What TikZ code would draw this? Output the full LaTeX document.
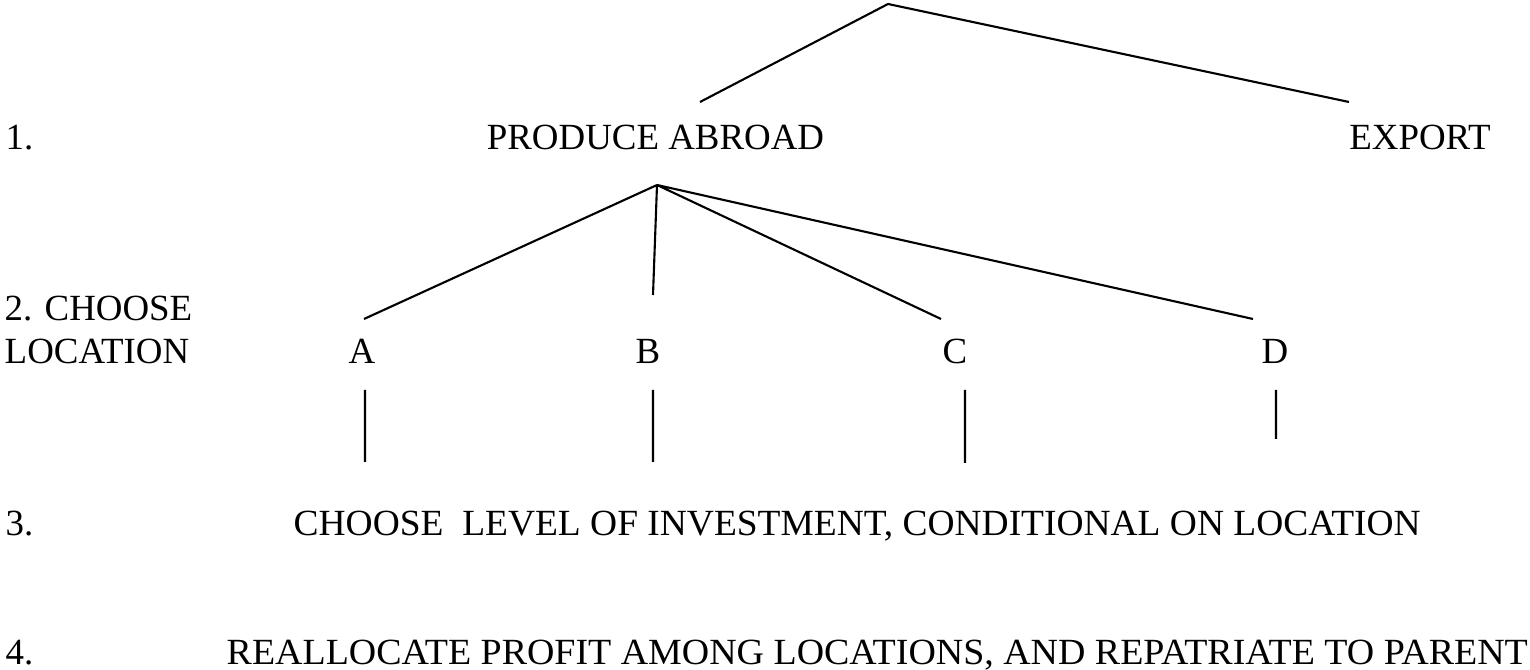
\documentclass[tikz,border=0pt]{standalone}
\usepackage{fontspec}
\setmainfont{Liberation Serif}
\begin{document}
\begin{tikzpicture}[lbl/.style={inner sep=0pt,font=\fontsize{10.5}{12}\selectfont},
                    stage/.style={lbl,anchor=base west},
                    choice/.style={lbl,anchor=base}]
\useasboundingbox (0,0) rectangle (15.30,6.70);
% stage labels on the left
\node (s1) at (0.05,5.20) [stage] {1.};
\node (s2) at (0.04,3.49) [stage] {2. CHOOSE};
\node (s2b) at (0.04,3.06) [stage] {LOCATION};
\node (s3) at (0.05,1.34) [stage] {3.};
\node (s4) at (0.05,0.05) [stage] {4.};
% first choice
\node (prod) at (6.555,5.20) [choice] {PRODUCE ABROAD};
\node (exp) at (14.20,5.20) [choice] {EXPORT};
% locations
\node (A) at (3.62,3.06) [choice] {A};
\node (B) at (6.48,3.06) [choice] {B};
\node (C) at (9.55,3.06) [choice] {C};
\node (D) at (12.75,3.06) [choice] {D};
\node (inv) at (2.93,1.34) [stage,xscale=1.015,transform shape] {CHOOSE\ \ LEVEL OF INVESTMENT, CONDITIONAL ON LOCATION};
\node (realloc) at (2.26,0.05) [stage,xscale=1.028,transform shape] {REALLOCATE PROFIT AMONG LOCATIONS, AND REPATRIATE TO PARENT};

\coordinate (top) at (8.88,6.66);
\coordinate (prodin) at (7.00,5.68);
\coordinate (expin) at (13.49,5.68);
\coordinate (prodout) at (6.57,4.85);
\coordinate (Ain) at (3.64,3.51);
\coordinate (Bin) at (6.53,3.75);
\coordinate (Cin) at (9.41,3.51);
\coordinate (Din) at (12.53,3.51);
\coordinate (Aout) at (3.65,2.80);
\coordinate (Bout) at (6.53,2.80);
\coordinate (Cout) at (9.65,2.80);
\coordinate (Dout) at (12.76,2.80);
\coordinate (Aend) at (3.65,2.08);
\coordinate (Bend) at (6.53,2.08);
\coordinate (Cend) at (9.65,2.07);
\coordinate (Dend) at (12.76,2.31);

\draw[line width=0.6pt]
(top) to (prodin)
(top) to (expin)
(prodout) to (Ain)
(prodout) to (Bin)
(prodout) to (Cin)
(prodout) to (Din)
(Aout) to (Aend)
(Bout) to (Bend)
(Cout) to (Cend)
(Dout) to (Dend);
\end{tikzpicture}
\end{document}
